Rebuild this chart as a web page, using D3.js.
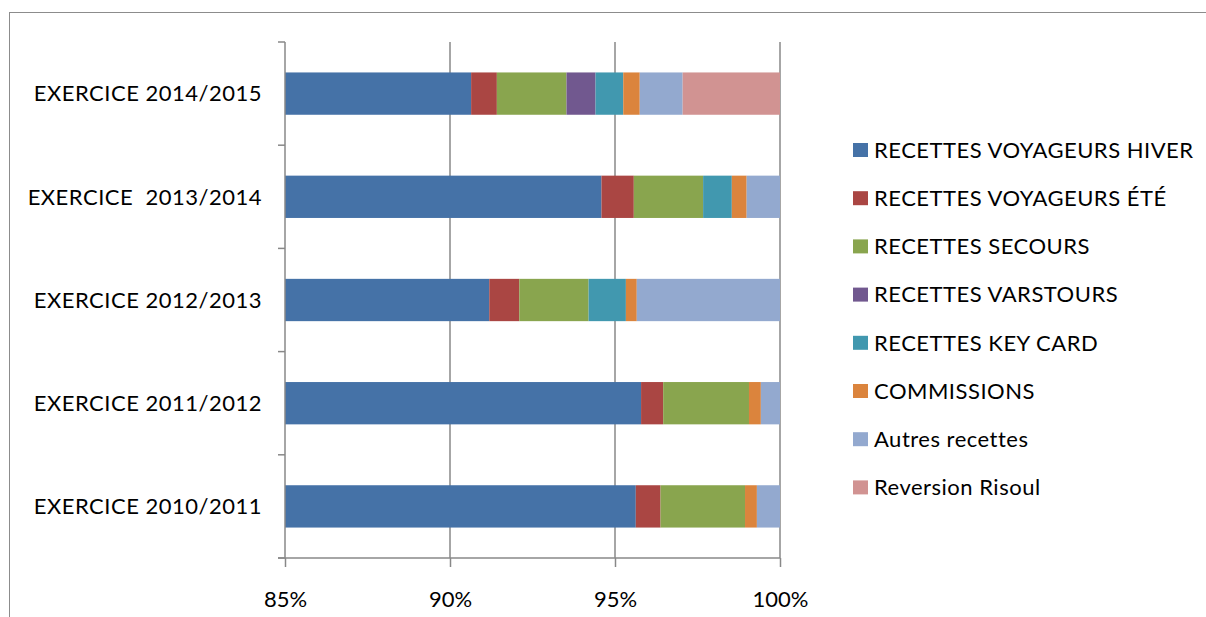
<!DOCTYPE html>
<html><head><meta charset="utf-8">
<script src="https://cdn.jsdelivr.net/npm/d3@7"></script>
<style>body{margin:0;background:#fff}svg{display:block}text{font-family:Lato,"Open Sans",sans-serif;fill:#000}</style>
</head><body>
<svg id="c" width="1206" height="617"></svg>
<script>
const categories = ["EXERCICE 2014/2015","EXERCICE  2013/2014","EXERCICE 2012/2013","EXERCICE 2011/2012","EXERCICE 2010/2011"];
const seriesNames = ["RECETTES VOYAGEURS HIVER","RECETTES VOYAGEURS ÉTÉ","RECETTES SECOURS","RECETTES VARSTOURS","RECETTES KEY CARD","COMMISSIONS","Autres recettes","Reversion Risoul"];
const colors = ["#4572A7","#AA4643","#89A54E","#71588F","#4198AF","#DB843D","#93A9CF","#D19392"];
// percent share per series, in category order
const hiver     = [90.64, 94.59, 91.19, 95.79, 95.63];
const ete       = [0.78, 0.98, 0.91, 0.67, 0.75];
const secours   = [2.11, 2.10, 2.10, 2.60, 2.56];
const varstours = [0.88, 0, 0, 0, 0];
const keycard   = [0.84, 0.87, 1.13, 0, 0];
const commissions = [0.50, 0.45, 0.33, 0.36, 0.36];
const autres    = [1.30, 1.01, 4.34, 0.58, 0.70];
const risoul    = [2.95, 0, 0, 0, 0];
const xTicks = [85, 90, 95, 100];

const series = [hiver, ete, secours, varstours, keycard, commissions, autres, risoul];
const svg = d3.select("#c");
const FS = "22px", LS = "0.5px";

// outer border
svg.append("rect").attr("x",9.5).attr("y",12.5).attr("width",1220).attr("height",640)
  .attr("fill","none").attr("stroke","#8c8c8c").attr("stroke-width",1);

const x = d3.scaleLinear().domain([85,100]).range([285,780]);
const y = d3.scaleBand().domain(categories).range([42,558]).paddingInner(0).paddingOuter(0);
const barH = y.bandwidth()*0.41;

// gridlines
svg.append("g").selectAll("line").data(xTicks.slice(1)).join("line")
  .attr("x1",d=>x(d)).attr("x2",d=>x(d)).attr("y1",42).attr("y2",558)
  .attr("stroke","#888").attr("stroke-width",1.5);

// bars
const table = categories.map((c,i)=>{const o={cat:c}; seriesNames.forEach((s,j)=>o[s]=series[j][i]); return o;});
const stack = d3.stack().keys(seriesNames)(table);
stack.forEach((layer,j)=>{
  svg.append("g").selectAll("rect").data(layer).join("rect")
    .attr("x",d=>x(Math.max(85,d[0])))
    .attr("width",d=>Math.max(0,x(Math.min(100,d[1]))-x(Math.max(85,d[0]))))
    .attr("y",d=>y(d.data.cat)+(y.bandwidth()-barH)/2)
    .attr("height",barH)
    .attr("fill",colors[j]);
});

// x axis
const xa = svg.append("g").attr("transform","translate(0,558)")
  .call(d3.axisBottom(x).tickValues(xTicks).tickSize(9).tickFormat(d=>d+"%"));
xa.select(".domain").remove();
xa.selectAll(".tick line").attr("stroke","#888").attr("stroke-width",1.5);
xa.selectAll("text").attr("y",41).attr("dy","0.35em").style("font-size",FS).attr("fill","#000");
svg.append("line").attr("x1",278).attr("x2",780).attr("y1",558).attr("y2",558).attr("stroke","#888").attr("stroke-width",1.5);

// y axis
svg.append("line").attr("x1",285).attr("x2",285).attr("y1",42).attr("y2",558).attr("stroke","#888").attr("stroke-width",1.5);
const yTickPos = d3.range(categories.length+1).map(i=>42+i*y.step());
svg.append("g").selectAll("line").data(yTickPos).join("line")
  .attr("x1",278).attr("x2",285).attr("y1",d=>d).attr("y2",d=>d).attr("stroke","#888").attr("stroke-width",1.5);
svg.append("g").selectAll("text").data(categories).join("text")
  .attr("x",262).attr("y",d=>y(d)+y.bandwidth()/2).attr("dy","0.35em")
  .attr("text-anchor","end").style("font-size",FS).style("letter-spacing",LS).style("white-space","pre").text(d=>d);

// legend
const lg = svg.append("g");
seriesNames.forEach((s,i)=>{
  const cy = 150 + i*48.2;
  lg.append("rect").attr("x",853).attr("y",cy-7).attr("width",15).attr("height",14).attr("fill",colors[i]);
  lg.append("text").attr("x",874).attr("y",cy).attr("dy","0.35em").style("font-size",FS).style("letter-spacing",LS).text(s);
});
</script>
</body></html>
